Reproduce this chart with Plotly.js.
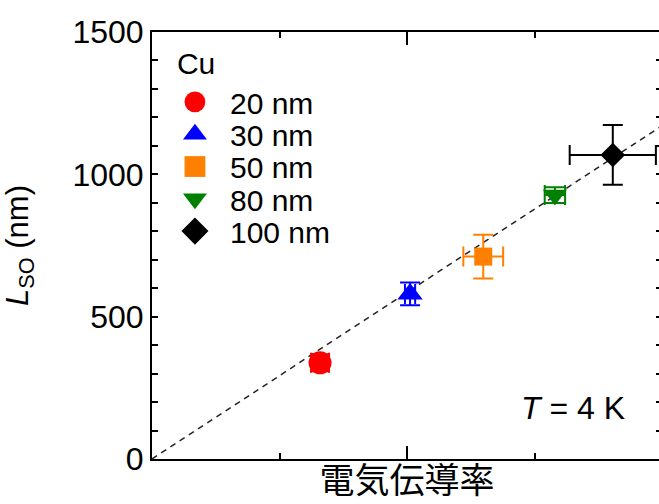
<!DOCTYPE html>
<html><head><meta charset="utf-8">
<script src="https://cdn.plot.ly/plotly-3.0.1.min.js"></script>
<style>html,body{margin:0;padding:0;overflow:hidden;background:#fff;width:659px;height:504px}#plot{width:670px;height:504px}</style>
</head><body><div id="plot"></div>
<script>
const sizes = ['20 nm','30 nm','50 nm','80 nm','100 nm'];
const sigma = [0.659, 1.012, 1.299, 1.58, 1.807];
const lso = [338, 580, 711, 927, 1068];
const sigmaErr = [0.035, 0.02, 0.078, 0.04, 0.169];
const lsoErr = [30, 40, 77, 28, 105];
const colors = ['#ff0000','#0000ff','#ff8000','#008000','#000000'];
const symbols = ['circle','triangle-up','square','triangle-down','diamond'];
const msizes = [23, 22, 18, 21, 19];
const fitX = [0, 2.1];
const fitY = [0, 1229];

const traces = [{
  x: fitX, y: fitY, mode: 'lines', showlegend: false, hoverinfo: 'skip',
  line: {color: '#222', width: 1.5, dash: '6px,5px'}
}];
sizes.forEach((s, i) => {
  traces.push({
    x: [sigma[i]], y: [lso[i]], name: s, mode: 'markers', type: 'scatter',
    marker: {symbol: symbols[i], color: colors[i], size: msizes[i]},
    error_x: {type: 'data', array: [sigmaErr[i]], color: colors[i], thickness: 2, width: 10},
    error_y: {type: 'data', array: [lsoErr[i]], color: colors[i], thickness: 2, width: 10}
  });
});

const layout = {
  width: 670, height: 504,
  margin: {l: 152, r: 8, t: 32, b: 45},
  paper_bgcolor: '#fff', plot_bgcolor: '#fff',
  font: {family: 'Liberation Sans, Arial, sans-serif', color: '#000'},
  showlegend: true,
  legend: {x: 0.045, y: 0.992, xanchor: 'left', yanchor: 'top', bgcolor: 'rgba(0,0,0,0)',
    font: {size: 30}, tracegroupgap: 0, itemwidth: 30,
    title: {text: 'Cu', font: {size: 30}}},
  xaxis: {range: [0, 2], showgrid: false, zeroline: false, showline: true, linecolor: '#000', linewidth: 2,
    mirror: 'allticks', ticks: 'inside', ticklen: 13, tickwidth: 2, tickcolor: '#000', dtick: 1, tick0: 0,
    showticklabels: false,
    minor: {dtick: 0.5, tick0: 0, ticks: 'inside', ticklen: 6, tickwidth: 2, tickcolor: '#000'},
    title: {text: '電気伝導率', font: {size: 35, family: 'Noto Sans CJK JP'}, standoff: 8}},
  yaxis: {range: [0, 1500], showgrid: false, zeroline: false, showline: true, linecolor: '#000', linewidth: 2,
    mirror: 'allticks', ticks: 'inside', ticklen: 6, tickwidth: 2, tickcolor: '#000', dtick: 500, tick0: 0,
    tickfont: {size: 32},
    minor: {dtick: 100, tick0: 0, ticks: 'inside', ticklen: 6, tickwidth: 2, tickcolor: '#000'},
    title: {text: '<i>L</i><sub>SO</sub> (nm)', font: {size: 31}, standoff: 36}},
  annotations: [{xref: 'paper', yref: 'paper', x: 0.826, y: 0.119, xanchor: 'center', yanchor: 'middle',
    text: '<i>T</i> = 4 K', showarrow: false, font: {size: 32}}]
};
const gd = document.getElementById('plot');
Plotly.newPlot(gd, traces, layout, {displayModeBar: false, staticPlot: true}).then(() => {
  gd.querySelectorAll('.legend [clip-path]').forEach(e => e.removeAttribute('clip-path'));
  const items = gd.querySelectorAll('.legend .traces');
  if (!items.length) return;
  const m = /translate\(\s*([-\d.]+)[ ,]+([-\d.]+)/.exec(items[0].getAttribute('transform') || '');
  const x0 = m ? parseFloat(m[1]) : 0;
  const y0 = m ? parseFloat(m[2]) : 0;
  items.forEach((g, i) => {
    g.setAttribute('transform', 'translate(' + x0 + ',' + (y0 + 1.5 + i * 32.3) + ')');
    const t = g.querySelector('text.legendtext');
    if (t) t.setAttribute('x', 55);
    g.querySelectorAll('.legendpoints path').forEach(p => {
      p.setAttribute('transform', (p.getAttribute('transform') || '') + ' scale(1.3)');
    });
  });
});
</script></body></html>
